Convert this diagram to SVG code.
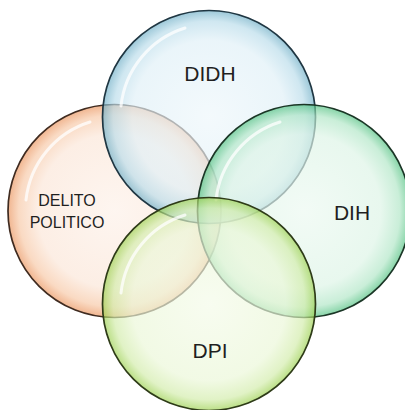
<svg xmlns="http://www.w3.org/2000/svg" width="405" height="410" viewBox="0 0 405 410">
<defs>
<radialGradient id="gBlue" cx="50%" cy="50%" r="50%">
<stop offset="0" stop-color="#eef7fb"/>
<stop offset="0.72" stop-color="#e0f0f7"/>
<stop offset="0.9" stop-color="#b9dcea"/>
<stop offset="1" stop-color="#6eaec6"/>
</radialGradient>
<radialGradient id="gOrange" cx="50%" cy="50%" r="50%">
<stop offset="0" stop-color="#fdf1e9"/>
<stop offset="0.72" stop-color="#fbe6d8"/>
<stop offset="0.9" stop-color="#f7c8a6"/>
<stop offset="1" stop-color="#ea935c"/>
</radialGradient>
<radialGradient id="gGreen" cx="50%" cy="50%" r="50%">
<stop offset="0" stop-color="#ecf9f1"/>
<stop offset="0.72" stop-color="#ddf4e6"/>
<stop offset="0.9" stop-color="#b0e6c6"/>
<stop offset="1" stop-color="#4fc07f"/>
</radialGradient>
<radialGradient id="gLime" cx="50%" cy="50%" r="50%">
<stop offset="0" stop-color="#f4fbe9"/>
<stop offset="0.72" stop-color="#ebf7d8"/>
<stop offset="0.9" stop-color="#d2ecaa"/>
<stop offset="1" stop-color="#9bd04e"/>
</radialGradient>
</defs>
<style>
.c{fill-opacity:0.68;stroke-width:1.7}
.gloss{fill:none;stroke:#ffffff;stroke-opacity:0.75;stroke-width:3;stroke-linecap:round}
.t{font-family:"Liberation Sans",Arial,sans-serif;fill:#1f1f1f;text-anchor:middle}
</style>
<rect width="405" height="410" fill="#ffffff"/>
<g id="delito">
<circle class="c" cx="114.5" cy="211" r="106.5" fill="url(#gOrange)" stroke="#3f2b20"/>
<path class="gloss" d="M26 200 A92 92 0 0 1 90 122"/>
<text class="t" x="67" y="206" font-size="16">DELITO</text>
<text class="t" x="67" y="228" font-size="16">POLITICO</text>
</g>
<g id="didh">
<circle class="c" cx="209" cy="117" r="106.5" fill="url(#gBlue)" stroke="#1f3642"/>
<path class="gloss" d="M121 106 A92 92 0 0 1 185 28"/>
<text class="t" x="210" y="81" font-size="21">DIDH</text>
</g>
<g id="dih">
<circle class="c" cx="304" cy="211" r="106.5" fill="url(#gGreen)" stroke="#1b3626"/>
<path class="gloss" d="M216 200 A92 92 0 0 1 280 122"/>
<text class="t" x="352" y="220" font-size="21">DIH</text>
</g>
<g id="dpi">
<circle class="c" cx="209" cy="304" r="106.5" fill="url(#gLime)" stroke="#2e3b18"/>
<path class="gloss" d="M121 293 A92 92 0 0 1 185 215"/>
<text class="t" x="210" y="358" font-size="21">DPI</text>
</g>
</svg>
